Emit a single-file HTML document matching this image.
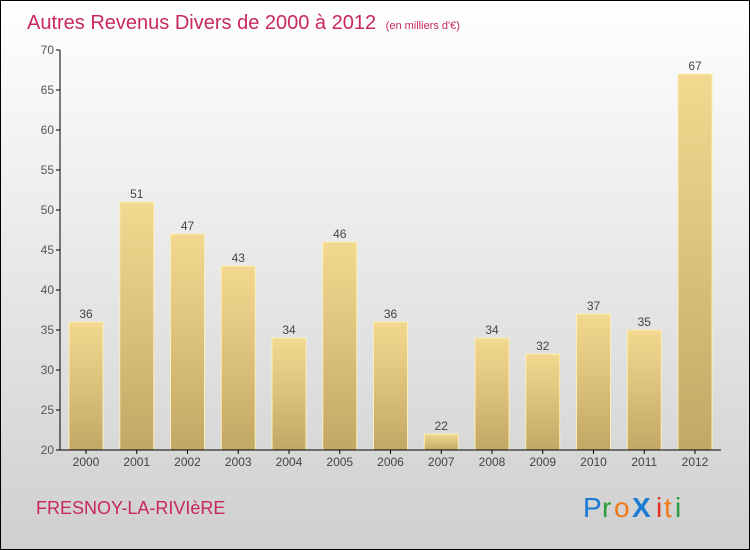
<!DOCTYPE html>
<html><head><meta charset="utf-8"><style>
body{margin:0}
svg{display:block;font-family:"Liberation Sans",sans-serif}
</style></head><body>
<svg width="750" height="550" viewBox="0 0 750 550">
<defs>
<linearGradient id="bg" x1="0" y1="0" x2="0" y2="1"><stop offset="0" stop-color="#ffffff"/><stop offset="1" stop-color="#cfcfcf"/></linearGradient>
<linearGradient id="bar" x1="0" y1="0" x2="0" y2="1"><stop offset="0" stop-color="#f3d98f"/><stop offset="1" stop-color="#c2a865"/></linearGradient>
</defs>
<rect x="0.5" y="0.5" width="749" height="549" fill="url(#bg)" stroke="#000"/>
<text x="27" y="29" font-size="20" fill="#c8285a">Autres Revenus Divers de 2000 à 2012 <tspan font-size="11" dx="4">(en milliers d'€)</tspan></text>
<g id="plot"></g>
<text x="36" y="514" font-size="18" fill="#c8285a">FRESNOY-LA-RIVIèRE</text>
<g font-size="28" font-family="'Liberation Sans',sans-serif">
<text x="583" y="517" fill="#1a7ad4">P</text><text x="602" y="517" fill="#2a9a3a">r</text><text x="614" y="517" fill="#f07818">o</text><text x="632" y="517" fill="#1a7ad4" font-weight="bold">X</text><text x="656" y="517" fill="#e03020">i</text><text x="664" y="517" fill="#f07818">t</text><text x="675" y="517" fill="#2a9a3a">i</text>
</g>
</svg>
<script>
const years=["2000","2001","2002","2003","2004","2005","2006","2007","2008","2009","2010","2011","2012"];
const values=[36,51,47,43,34,46,36,22,34,32,37,35,67];
const yTicks=[20,25,30,35,40,45,50,55,60,65,70];
const NS="http://www.w3.org/2000/svg";
const plotG=document.getElementById('plot');
const yMin=20,yMax=70,plotTop=50,plotBot=450;
const yS=v=>plotBot-(v-yMin)/(yMax-yMin)*(plotBot-plotTop);
const x0=69,step=50.75,bw=34;
const xS=i=>x0+i*step;
function mk(t,a){const e=document.createElementNS(NS,t);for(const k in a)e.setAttribute(k,a[k]);plotG.appendChild(e);return e;}
yTicks.forEach(v=>{
 const l=mk('line',{x1:56,x2:60,y1:yS(v),y2:yS(v),stroke:'#000'});
 
 
 const t=mk('text',{x:54,y:yS(v)+4,'text-anchor':'end','font-size':12,fill:'#555'});
 t.textContent=v;
 
 
});
values.forEach((v,i)=>{
 const r=mk('rect',{x:xS(i),y:yS(v),width:bw,height:plotBot-yS(v),fill:'url(#bar)',stroke:'#fbeeb8','stroke-width':1});
 
 
 const t=mk('text',{x:xS(i)+bw/2,y:yS(v)-4,'text-anchor':'middle','font-size':12,fill:'#444'});
 t.textContent=v;
 
 
 const tk=mk('line',{x1:xS(i)+bw/2,x2:xS(i)+bw/2,y1:plotBot,y2:plotBot+4,stroke:'#000'});
 
 
 const xl=mk('text',{x:xS(i)+bw/2,y:plotBot+16,'text-anchor':'middle','font-size':12,fill:'#444'});
 xl.textContent=years[i];
 
 
});
const ya=mk('line',{x1:60,x2:60,y1:plotTop,y2:plotBot,stroke:'#000'});


const xa=mk('line',{x1:60,x2:721,y1:plotBot,y2:plotBot,stroke:'#000'});


</script>
</body></html>
